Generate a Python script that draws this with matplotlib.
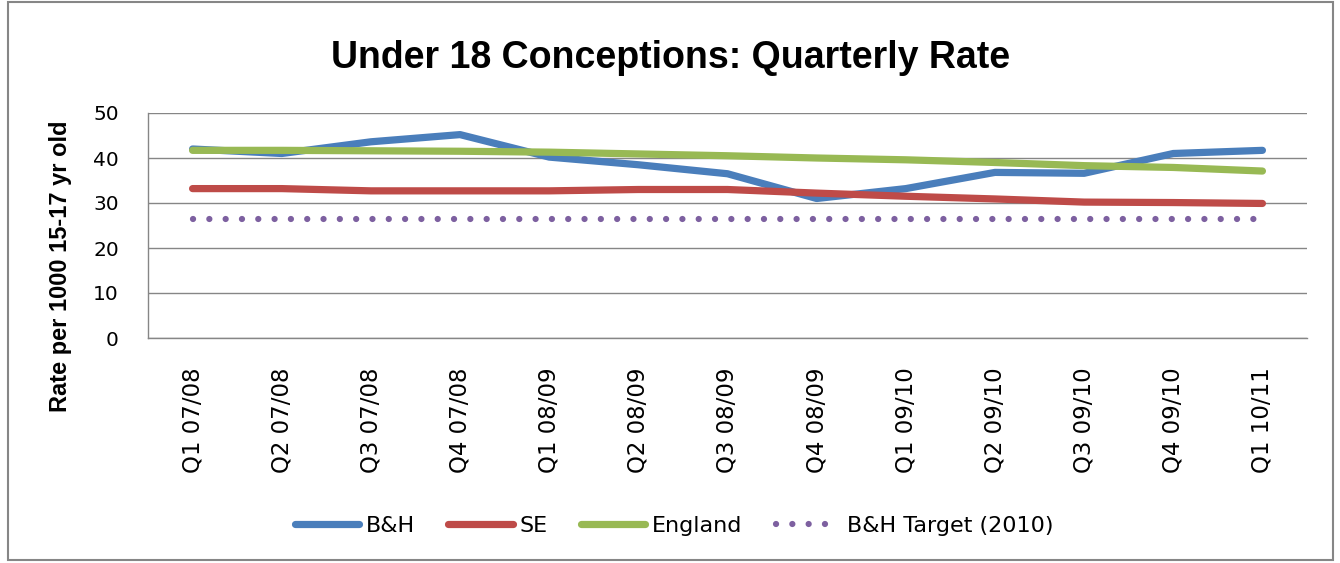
import matplotlib
matplotlib.use("Agg")
import matplotlib.pyplot as plt
from matplotlib.patches import Rectangle

quarters = ["Q1 07/08", "Q2 07/08", "Q3 07/08", "Q4 07/08", "Q1 08/09", "Q2 08/09",
            "Q3 08/09", "Q4 08/09", "Q1 09/10", "Q2 09/10", "Q3 09/10", "Q4 09/10", "Q1 10/11"]
bh = [42.0, 41.0, 43.6, 45.2, 40.2, 38.5, 36.5, 31.0, 33.2, 36.8, 36.6, 41.0, 41.7]
se = [33.2, 33.2, 32.7, 32.7, 32.7, 33.0, 33.0, 32.2, 31.5, 30.9, 30.2, 30.1, 29.9]
england = [41.7, 41.7, 41.6, 41.5, 41.3, 40.9, 40.5, 40.0, 39.6, 39.0, 38.3, 37.9, 37.1]
target = [26.5, 26.5, 26.5, 26.5, 26.5, 26.5, 26.5, 26.5, 26.5, 26.5, 26.5, 26.5, 26.5]
yticks = [0, 10, 20, 30, 40, 50]

W, H = 1340, 563
fig = plt.figure(figsize=(W / 100, H / 100), dpi=100)
fig.patch.set_facecolor("white")

ax = fig.add_axes([148 / W, 1 - 338 / H, (1307 - 148) / W, (338 - 113) / H])
x = list(range(len(quarters)))

grey = "#868686"
ax.plot(x, bh, color="#4A7EBB", lw=5.2, solid_capstyle="round", solid_joinstyle="round", label="B&H")
ax.plot(x, se, color="#BE4B48", lw=5.2, solid_capstyle="round", solid_joinstyle="round", label="SE")
ax.plot(x, england, color="#98B954", lw=5.2, solid_capstyle="round", solid_joinstyle="round", label="England")
ax.plot(x, target, color="#7D60A0", lw=4.5, linestyle=(0, (0.01, 2.6)), dash_capstyle="round",
        label="B&H Target (2010)")

ax.set_xlim(-0.5, len(quarters) - 0.5)
ax.set_ylim(0, 50)
ax.set_yticks(yticks)
ax.set_yticklabels([str(v) for v in yticks], fontfamily="DejaVu Sans", fontsize=14.5)
ax.set_xticks(x)
ax.set_xticklabels(quarters, rotation=90, fontfamily="DejaVu Sans", fontsize=16.5)
ax.tick_params(axis="y", length=0, pad=21)
ax.tick_params(axis="x", length=0, pad=21)
ax.grid(axis="y", color=grey, lw=1.0)
ax.set_axisbelow(True)
for s in ["top", "right"]:
    ax.spines[s].set_visible(False)
for s in ["left", "bottom"]:
    ax.spines[s].set_color(grey)
    ax.spines[s].set_linewidth(1.0)

fig.text(671 / W, 1 - 68.3 / H, "Under 18 Conceptions: Quarterly Rate", ha="center", va="baseline",
         fontfamily="Liberation Sans", fontweight="bold", fontsize=27)
fig.text(61 / W, 1 - 266 / H, "Rate per 1000 15-17 yr old", ha="center", va="center", rotation=90,
         fontfamily="Liberation Sans", fontweight="bold", fontsize=17)

leg = ax.legend(loc="center", bbox_to_anchor=(674 / W, 1 - 526 / H), bbox_transform=fig.transFigure,
                ncol=4, frameon=False, prop={"family": "DejaVu Sans", "size": 16},
                handlelength=2.9, handletextpad=0.3, columnspacing=1.5)

fig.add_artist(Rectangle((8 / W, 1 - 560 / H), (1333 - 8) / W, (560 - 2) / H,
                         transform=fig.transFigure, fill=False, edgecolor=grey, lw=1.5))

fig.savefig("out.png", dpi=100)
